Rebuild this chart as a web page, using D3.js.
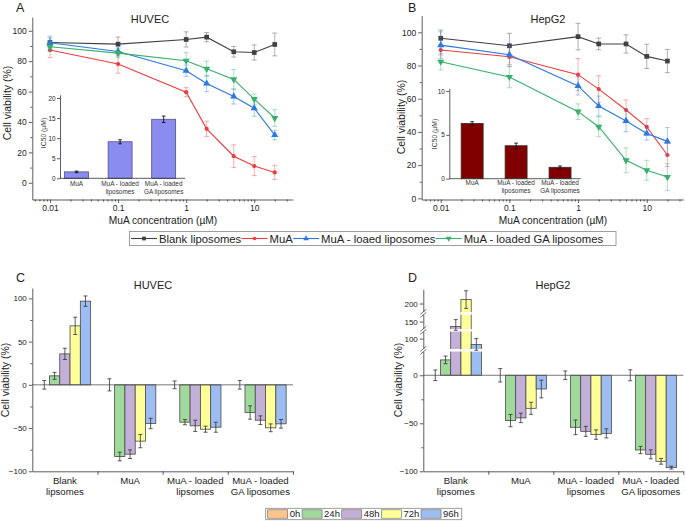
<!DOCTYPE html>
<html><head><meta charset="utf-8">
<script src="https://cdn.jsdelivr.net/npm/d3@7"></script>
<style>body{margin:0;background:#fff}svg{display:block}</style>
</head><body><svg id="c" width="685" height="521"></svg>
<script>
// ---------------- DATA ----------------
const concentrations = [0.01, 0.1, 1, 2, 5, 10, 20];
const logTickValues = [0.01, 0.1, 1, 10];
const logTickLabels = ["0.01", "0.1", "1", "10"];
const seriesNames = ["Blank liposomes", "MuA", "MuA - loaed liposomes", "MuA - loaded GA liposomes"];

const huvecBlank = [92.3, 91.2, 94.3, 95.8, 86.2, 85.7, 91.0];
const huvecBlankErr = [3, 4.7, 5, 3, 3.5, 5, 7.5];
const huvecMuA = [87.3, 78.1, 59.6, 35.5, 17.5, 11.0, 6.8];
const huvecMuAErr = [5, 6, 3, 5, 7.5, 6.3, 4.7];
const huvecLipo = [92.1, 86.4, 73.7, 65.3, 56.8, 49.1, 31.4];
const huvecLipoErr = [4.4, 3, 3.7, 5.4, 5, 5.3, 3.2];
const huvecGA = [89.5, 85.3, 80.3, 75.0, 68.0, 55.1, 42.6];
const huvecGAErr = [3, 3, 5.3, 5, 6.6, 3.3, 5.5];

const hepBlank = [96.4, 91.9, 97.4, 93.0, 93.0, 85.5, 82.7];
const hepBlankErr = [5, 7.5, 8, 3.5, 5.5, 7.3, 7];
const hepMuA = [89.3, 85.3, 74.5, 65.8, 53.2, 43.0, 26.1];
const hepMuAErr = [3, 6, 9.7, 8, 6, 5, 7];
const hepLipo = [92.3, 86.5, 67.7, 55.6, 46.6, 39.1, 34.3];
const hepLipoErr = [8, 6, 5.5, 6, 6.5, 4, 8.3];
const hepGA = [82.3, 73.1, 52.2, 43.1, 22.9, 16.9, 12.8];
const hepGAErr = [5, 6.5, 4.7, 6, 7.5, 6, 8.2];

const ic50Labels = [["MuA"], ["MuA - loaded", "liposomes"], ["MuA - loaded", "GA liposomes"]];
const huvecIC50 = [1.6, 9.1, 14.7];
const huvecIC50Err = [0.2, 0.5, 0.8];
const hepIC50 = [6.3, 3.76, 1.3];
const hepIC50Err = [0.2, 0.3, 0.15];

const groupLabels = [["Blank", "lipsomes"], ["MuA"], ["MuA - loaded", "lipsomes"], ["MuA - loaded", "GA liposomes"]];
const timeLabels = ["0h", "24h", "48h", "72h", "96h"];
const huvecBars = [[0, 10.4, 35.8, 68.2, 96.8], [0, -82.9, -80.2, -65.1, -44.7], [0, -43.2, -47.4, -51.3, -49.0], [0, -32.0, -40.9, -49.7, -45.1]];
const huvecBarsErr = [[5, 4, 6.5, 10, 6], [7, 5, 5, 7.7, 6], [4.5, 3, 6.5, 3.5, 5.8], [5, 7.7, 5, 4.5, 5]];
const hepBars = [[0, 16, 145, 204, 94], [0, -47.2, -44.4, -34.4, -14.3], [0, -54.2, -58.4, -61.8, -60.5], [0, -77.8, -82.3, -89.6, -96.2]];
const hepBarsErr = [[5.5, 4, 7, 9, 6], [7, 6.4, 4.9, 6.3, 9.2], [4.5, 7.6, 5.2, 4.9, 4.7], [5.7, 3.8, 4.7, 3, 1.5]];

const cTicks = [-100, -50, 0, 50, 100];
const cMinor = [-75, -25, 25, 75];
const dTicks = [-100, -50, 0, 100, 150, 200];
const dMinor = [-75, -25];
const dBreakDomain = [-100, 26, 88, 108.5, 141, 158.5, 190, 214.5];

// ---------------- STYLE ----------------
const FONT = '"Liberation Sans", Arial, Helvetica, sans-serif';
const seriesColors = ["#404040", "#f03c3c", "#2a78e4", "#36b06a"];
const timeColors = ["#ffc48e", "#a0d99b", "#c3b0d8", "#ffff99", "#9dbdf2"];
const svg = d3.select("#c").attr("font-family", FONT);
svg.append("rect").attr("width", 685).attr("height", 521).attr("fill", "#fff");

function styleAxis(g, fs) {
  g.attr("font-family", FONT).attr("font-size", fs);
  g.selectAll("path,line").attr("stroke", "#333").attr("stroke-width", 0.8);
  g.selectAll("text").attr("fill", "#222");
}
function symbolPath(i, size) {
  const types = [d3.symbolSquare, d3.symbolCircle, d3.symbolTriangle, d3.symbolTriangle];
  return d3.symbol().type(types[i]).size(size)();
}
function drawMarker(g, i, cx, cy, size) {
  g.append("path").attr("d", symbolPath(i, size))
    .attr("transform", `translate(${cx},${cy})` + (i === 3 ? " rotate(180)" : ""))
    .attr("fill", seriesColors[i]);
}
function text(g, x, y, s, fs, anchor) {
  return g.append("text").attr("x", x).attr("y", y).attr("font-size", fs)
    .attr("text-anchor", anchor || "start").attr("fill", "#222").text(s);
}

// ---------------- LINE PANELS ----------------
function linePanel(o) {
  const x = d3.scaleLog().domain(o.xDomain).range(o.xRange);
  const y = d3.scaleLinear().domain(o.yDomain).range(o.yRange);
  const g = svg.append("g");
  const x0 = o.xRange[0], yb = o.yRange[0];
  const minorX = [];
  [0.001, 0.01, 0.1, 1, 10].forEach(d => { for (let m = 2; m <= 9; m++) { const v = d * m; if (v > o.xDomain[0] && v < o.xDomain[1]) minorX.push(v); } });
  g.append("g").attr("transform", `translate(0,${yb})`)
    .call(d3.axisBottom(x).tickValues(minorX).tickSize(2).tickFormat("")).call(a => { styleAxis(a, 8.5); a.select(".domain").remove(); });
  g.append("g").attr("transform", `translate(0,${yb})`)
    .call(d3.axisBottom(x).tickValues(logTickValues).tickFormat((d, i) => logTickLabels[i]).tickSize(3.5).tickSizeOuter(0).tickPadding(1.5))
    .call(a => styleAxis(a, 8.5));
  g.append("g").attr("transform", `translate(${x0},0)`)
    .call(d3.axisLeft(y).tickValues(o.yMinor).tickSize(2).tickFormat("")).call(a => { styleAxis(a, 8.5); a.select(".domain").remove(); });
  g.append("g").attr("transform", `translate(${x0},0)`)
    .call(d3.axisLeft(y).tickValues([0, 20, 40, 60, 80, 100]).tickSize(3.5).tickSizeOuter(0).tickPadding(2))
    .call(a => styleAxis(a, 8.5));

  inset(g, o.inset);

  o.series.forEach((s, si) => {
    const col = seriesColors[si];
    const eg = g.append("g").attr("stroke", col).attr("stroke-opacity", 0.45).attr("stroke-width", 0.9);
    s.vals.forEach((v, k) => {
      const cx = x(concentrations[k]);
      const y1 = y(v - s.err[k]), y2 = y(v + s.err[k]);
      eg.append("line").attr("x1", cx).attr("x2", cx).attr("y1", y1).attr("y2", y2);
      eg.append("line").attr("x1", cx - 2.5).attr("x2", cx + 2.5).attr("y1", y1).attr("y2", y1);
      eg.append("line").attr("x1", cx - 2.5).attr("x2", cx + 2.5).attr("y1", y2).attr("y2", y2);
    });
    g.append("path").datum(s.vals)
      .attr("d", d3.line().x((d, k) => x(concentrations[k])).y(d => y(d)))
      .attr("fill", "none").attr("stroke", col).attr("stroke-width", 1.1);
    s.vals.forEach((v, k) => drawMarker(g, si, x(concentrations[k]), y(v), si === 1 ? 14 : 22));
  });

  text(g, o.title[0], o.title[1], o.titleText, 11, "middle");
  text(g, o.letter[0], o.letter[1], o.letterText, 12.5, "start");
  g.append("text").attr("transform", `translate(${o.ylab[0]},${o.ylab[1]}) rotate(-90)`)
    .attr("text-anchor", "middle").attr("font-size", 10.5).attr("fill", "#222").text("Cell viability (%)");
  text(g, o.xlab[0], o.xlab[1], "MuA concentration (µM)", 10.2, "middle");
}

function inset(g, o) {
  const x = d3.scaleLinear().domain(o.xDomain).range(o.xRange);
  const y = d3.scaleLinear().domain(o.yDomain).range(o.yRange);
  const ig = g.append("g");
  const bw = (x(1) - x(0)) * o.barFrac;
  o.vals.forEach((v, i) => {
    ig.append("rect").attr("x", x(i) - bw / 2).attr("y", y(v)).attr("width", bw).attr("height", y(0) - y(v))
      .attr("fill", o.fill).attr("stroke", o.stroke).attr("stroke-width", 0.8);
    const cx = x(i), y1 = y(v - o.err[i]), y2 = y(v + o.err[i]);
    ig.append("line").attr("x1", cx).attr("x2", cx).attr("y1", y1).attr("y2", y2).attr("stroke", "#111").attr("stroke-width", 0.9);
    [y1, y2].forEach(yy => ig.append("line").attr("x1", cx - 1.8).attr("x2", cx + 1.8).attr("y1", yy).attr("y2", yy).attr("stroke", "#111").attr("stroke-width", 0.9));
    const t = ig.append("text").attr("text-anchor", "middle").attr("font-size", 6.4).attr("fill", "#333");
    ic50Labels[i].forEach((l, j) => t.append("tspan").attr("x", cx).attr("y", o.labY + j * 8.2).text(l));
  });
  ig.append("g").attr("transform", `translate(${o.xRange[0]},0)`)
    .call(d3.axisLeft(y).tickValues(o.ticks).tickSize(3).tickSizeOuter(0).tickPadding(1.5))
    .call(a => styleAxis(a, 6.4));
  ig.append("line").attr("x1", o.xRange[0]).attr("x2", o.xRange[1]).attr("y1", y(0)).attr("y2", y(0)).attr("stroke", "#333").attr("stroke-width", 0.8);
  ig.append("text").attr("transform", `translate(${o.ylab[0]},${o.ylab[1]}) rotate(-90)`)
    .attr("text-anchor", "middle").attr("font-size", 6.8).attr("fill", "#333").text("IC50 (µM)");
}

linePanel({
  xDomain: [0.0055, 36.7], xRange: [32.3, 292.7],
  yDomain: [-11, 109], yRange: [199.5, 17.1],
  yMinor: [10, 30, 50, 70, 90],
  series: [
    { vals: huvecBlank, err: huvecBlankErr }, { vals: huvecMuA, err: huvecMuAErr },
    { vals: huvecLipo, err: huvecLipoErr }, { vals: huvecGA, err: huvecGAErr }],
  title: [150, 22.5], titleText: "HUVEC", letter: [16, 11.5], letterText: "A",
  ylab: [10.5, 103], xlab: [163, 223.5],
  inset: {
    xDomain: [-0.38, 2.49], xRange: [60, 185], yDomain: [0, 20.8], yRange: [178.3, 94.8],
    vals: huvecIC50, err: huvecIC50Err, ticks: [0, 5, 10, 15, 20], barFrac: 0.55,
    fill: "#8a8cf0", stroke: "#50508a", labY: 185.5, ylab: [45.5, 133]
  }
});
linePanel({
  xDomain: [0.00528, 34.1], xRange: [421.7, 683.3],
  yDomain: [-0.7, 110], yRange: [199.5, 15.7],
  yMinor: [10, 30, 50, 70, 90],
  series: [
    { vals: hepBlank, err: hepBlankErr }, { vals: hepMuA, err: hepMuAErr },
    { vals: hepLipo, err: hepLipoErr }, { vals: hepGA, err: hepGAErr }],
  title: [548, 22.5], titleText: "HepG2", letter: [408, 11.5], letterText: "B",
  ylab: [405, 117], xlab: [553, 223.5],
  inset: {
    xDomain: [-0.52, 2.47], xRange: [449.3, 580.7], yDomain: [0, 10.3], yRange: [178.7, 88.4],
    vals: hepIC50, err: hepIC50Err, ticks: [0, 5, 10], barFrac: 0.5,
    fill: "#800000", stroke: "#3a2a2a", labY: 185, ylab: [436.5, 134]
  }
});

// top legend
(function () {
  const lg = svg.append("g");
  lg.append("rect").attr("x", 129.5).attr("y", 231.5).attr("width", 486.5).attr("height", 14)
    .attr("fill", "#fff").attr("stroke", "#888").attr("stroke-width", 0.8);
  let lx = 131;
  seriesNames.forEach((n, i) => {
    lg.append("line").attr("x1", lx).attr("x2", lx + 26).attr("y1", 238.5).attr("y2", 238.5)
      .attr("stroke", seriesColors[i]).attr("stroke-width", 1.1);
    drawMarker(lg, i, lx + 13, 238.5, i === 1 ? 10 : 14);
    const t = text(lg, lx + 28, 242.6, n, 11.3, "start");
    lx += 28 + t.node().getComputedTextLength() + 0.3;
  });
})();

// ---------------- BAR PANELS ----------------
function barPanel(o) {
  const x = d3.scaleBand().domain(d3.range(groupLabels.length)).range(o.xRange).padding(0);
  const xi = d3.scaleBand().domain(timeLabels).range([0, x.bandwidth()]).paddingInner(0).paddingOuter(0.665);
  const y = o.y;
  const g = svg.append("g");
  const x0 = o.xRange[0], yb = y(-100);

  o.vals.forEach((grp, gi) => {
    grp.forEach((v, ti) => {
      const bx = x(gi) + xi(timeLabels[ti]);
      const top = Math.min(y(v), y(0)), h = Math.abs(y(0) - y(v));
      g.append("rect").attr("x", bx).attr("y", top).attr("width", xi.bandwidth()).attr("height", h)
        .attr("fill", timeColors[ti]).attr("stroke", h > 0 ? "#4a4a4a" : "none").attr("stroke-width", 0.8);
      if (o.breaks) {
        o.breaks.forEach(b => {
          if (y(v) < b) g.append("rect").attr("x", bx - 0.6).attr("y", b - 1.3).attr("width", xi.bandwidth() + 1.2).attr("height", 2.6).attr("fill", "#fff");
        });
      }
    });
  });
  g.append("line").attr("x1", x0).attr("x2", o.xRange[1]).attr("y1", y(0)).attr("y2", y(0)).attr("stroke", "#555").attr("stroke-width", 0.8);
  o.vals.forEach((grp, gi) => {
    grp.forEach((v, ti) => {
      const cx = x(gi) + xi(timeLabels[ti]) + xi.bandwidth() / 2;
      const e = o.err[gi][ti];
      const y1 = y(v - e), y2 = y(v + e);
      g.append("line").attr("x1", cx).attr("x2", cx).attr("y1", y1).attr("y2", y2).attr("stroke", "#333").attr("stroke-width", 0.8);
      [y1, y2].forEach(yy => g.append("line").attr("x1", cx - 2).attr("x2", cx + 2).attr("y1", yy).attr("y2", yy).attr("stroke", "#333").attr("stroke-width", 0.8));
    });
  });
  g.append("g").attr("transform", `translate(${x0},0)`)
    .call(d3.axisLeft(y).tickValues(o.minor).tickSize(2).tickFormat("")).call(a => { styleAxis(a, 8); a.select(".domain").remove(); });
  g.append("g").attr("transform", `translate(${x0},0)`)
    .call(d3.axisLeft(y).tickValues(o.ticks).tickSize(3.5).tickSizeOuter(0).tickPadding(2))
    .call(a => styleAxis(a, 8));
  const bounds = d3.range(1, groupLabels.length + 1).map(i => x.step() * i + o.xRange[0]);
  g.append("g").attr("transform", `translate(0,${yb})`)
    .call(d3.axisBottom(d3.scaleLinear().domain(o.xRange).range(o.xRange)).tickValues(bounds).tickSize(3.5).tickSizeOuter(0).tickFormat(""))
    .call(a => styleAxis(a, 8));
  groupLabels.forEach((lab, gi) => {
    const t = g.append("text").attr("text-anchor", "middle").attr("font-size", 9.6).attr("fill", "#222");
    lab.forEach((l, j) => t.append("tspan").attr("x", x(gi) + x.bandwidth() / 2).attr("y", 483.5 + j * 11.7).text(l));
  });
  if (o.breaks) {
    o.breaks.forEach(b => {
      g.append("rect").attr("x", x0 - 3).attr("y", b - 1.5).attr("width", 6).attr("height", 3).attr("fill", "#fff");
      [-1.5, 1.5].forEach(d => g.append("line").attr("x1", x0 - 3).attr("x2", x0 + 3).attr("y1", b + d + 2.5).attr("y2", b + d - 2.5)
        .attr("stroke", "#333").attr("stroke-width", 0.7));
    });
  }
  text(g, o.title[0], o.title[1], o.titleText, 11, "middle");
  text(g, o.letter[0], o.letter[1], o.letterText, 12.5, "start");
  g.append("text").attr("transform", `translate(${o.ylab[0]},${o.ylab[1]}) rotate(-90)`)
    .attr("text-anchor", "middle").attr("font-size", 10.5).attr("fill", "#222").text("Cell viability (%)");
}

barPanel({
  xRange: [32.3, 293],
  y: d3.scaleLinear().domain([-100, 112]).range([471.3, 288]),
  ticks: cTicks, minor: cMinor, vals: huvecBars, err: huvecBarsErr,
  title: [153, 288.5], titleText: "HUVEC", letter: [16, 281.5], letterText: "C", ylab: [9, 380]
});
barPanel({
  xRange: [423.3, 683.3],
  y: d3.scaleLinear().domain(dBreakDomain).range([471.3, 350.3, 350.3, 330.3, 330.3, 313.3, 313.3, 289.3]),
  ticks: dTicks, minor: dMinor, vals: hepBars, err: hepBarsErr, breaks: [350.3, 330.3, 313.3],
  title: [553, 288.5], titleText: "HepG2", letter: [408, 281.5], letterText: "D", ylab: [401.5, 380]
});

// bottom legend
(function () {
  const lg = svg.append("g");
  lg.append("rect").attr("x", 265.7).attr("y", 508.3).attr("width", 196).attr("height", 11.4)
    .attr("fill", "#fff").attr("stroke", "#888").attr("stroke-width", 0.8);
  let lx = 267.7;
  timeLabels.forEach((n, i) => {
    lg.append("rect").attr("x", lx).attr("y", 509.8).attr("width", 20).attr("height", 8.4)
      .attr("fill", timeColors[i]).attr("stroke", "#666").attr("stroke-width", 0.6);
    const t = text(lg, lx + 22, 517.3, n, 9.5, "start");
    lx += 22 + t.node().getComputedTextLength() + 1.8;
  });
})();
</script></body></html>
